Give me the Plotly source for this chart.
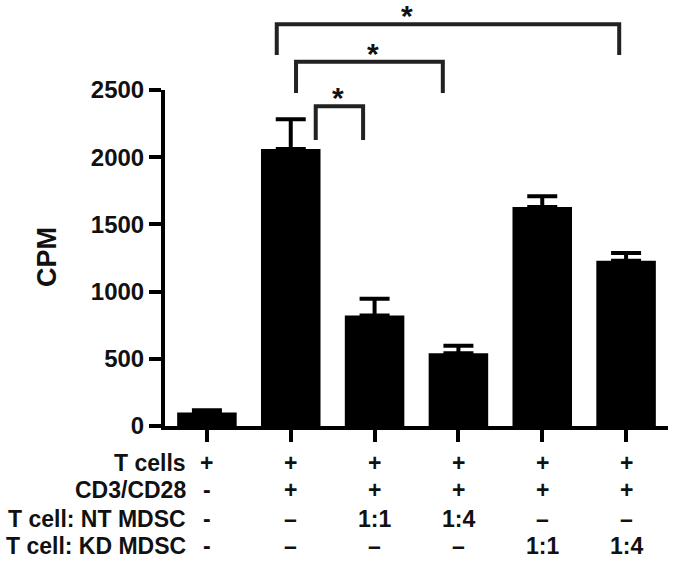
import plotly.graph_objects as go

# ---- data ----
groups = ["G1", "G2", "G3", "G4", "G5", "G6"]
cpm_mean = [100, 2061, 823, 542, 1630, 1230]
cpm_sem = [17, 222, 124, 55, 79, 57]

row_labels = ["T cells", "CD3/CD28", "T cell: NT MDSC", "T cell: KD MDSC"]
row_values = [
    ["+", "+", "+", "+", "+", "+"],
    ["-", "+", "+", "+", "+", "+"],
    ["-", "–", "1:1", "1:4", "–", "–"],
    ["-", "–", "–", "–", "1:1", "1:4"],
]
# significance brackets: (left group, right group, star x)
brackets = [(0.833, 4.918, 2.39), (1.063, 2.814, 1.98), (1.298, 1.863, 1.56)]
bracket_y = [(1.196, 1.104), (1.084, 0.991), (0.952, 0.851)]

FONT = "Liberation Sans, Arial, sans-serif"
INK = "#111111"

fig = go.Figure()
fig.add_trace(go.Bar(
    x=list(range(len(groups))), y=cpm_mean,
    width=0.71,
    marker=dict(color="#000000", line=dict(width=0)),
    error_y=dict(type="data", array=cpm_sem, arrayminus=[0]*len(cpm_sem),
                 symmetric=False, color="#000000", thickness=4, width=15),
    showlegend=False,
))

shapes = []
annotations = []
for (xl, xr, xs), (yt, yb) in zip(brackets, bracket_y):
    shapes.append(dict(type="path", xref="x", yref="paper",
                       path=f"M {xl},{yb} L {xl},{yt} L {xr},{yt} L {xr},{yb}",
                       line=dict(color="#222222", width=4)))
    annotations.append(dict(x=xs, y=yt, xref="x", yref="paper", text="<b>*</b>",
                            showarrow=False, yanchor="bottom", yshift=-10,
                            font=dict(family=FONT, size=30, color=INK)))

row_y = [-0.110, -0.190, -0.277, -0.357]
for lab, vals, ry in zip(row_labels, row_values, row_y):
    annotations.append(dict(x=-0.22, y=ry, xref="x", yref="paper", text=f"<b>{lab}</b>",
                            showarrow=False, xanchor="right", yanchor="middle",
                            font=dict(family=FONT, size=23, color=INK)))
    for i, v in enumerate(vals):
        annotations.append(dict(x=i, y=ry, xref="x", yref="paper", text=f"<b>{v}</b>",
                                showarrow=False, xanchor="center", yanchor="middle",
                                font=dict(family=FONT, size=23, color=INK)))

annotations.append(dict(x=-0.2346, y=0.503, xref="paper", yref="paper", text="<b>CPM</b>",
                        showarrow=False, textangle=-90, xanchor="center", yanchor="middle",
                        font=dict(family=FONT, size=27, color=INK)))

fig.update_layout(
    width=676, height=562,
    margin=dict(l=165, r=8, t=90, b=136, autoexpand=False),
    paper_bgcolor="white", plot_bgcolor="white",
    bargap=0.29,
    xaxis=dict(range=[-0.5, 5.5], showgrid=False, zeroline=False, showline=True,
               linecolor="#000000", linewidth=4, ticks="outside", ticklen=12, tickwidth=4,
               tickcolor="#000000", tickvals=list(range(len(groups))), showticklabels=False,
               automargin=False),
    yaxis=dict(range=[0, 2500], showgrid=False, zeroline=False, showline=True,
               linecolor="#000000", linewidth=4, ticks="outside", ticklen=12, tickwidth=4,
               tickcolor="#000000", tickvals=[0, 500, 1000, 1500, 2000, 2500],
               tickfont=dict(family=FONT, size=24, color=INK, weight="bold"),
               automargin=False),
    shapes=shapes, annotations=annotations,
)
fig.write_html("out.html", config={"displayModeBar": False},
               post_script="document.body.style.margin='0';document.body.style.overflow='hidden';")
